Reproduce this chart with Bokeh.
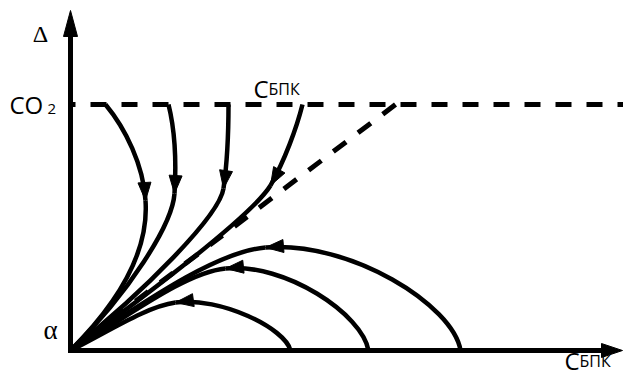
import numpy as np
from bokeh.plotting import figure
from bokeh.models import Range1d
from bokeh.core.properties import value
from bokeh.embed import file_html
from bokeh.resources import INLINE

# --- diagram geometry (data units: origin at the corner of the axes) ---
co2_level = 246           # height of the dashed CO2 line
x_axis_end = 552          # tip of the horizontal axis arrow
y_axis_end = 340          # tip of the vertical axis arrow
diag_end = (325, 246)     # upper end of the dashed diagonal

# Trajectories leaving the CO2 line. Each one is two cubic pieces:
# start, c1, c2, arrow point, c1, c2, origin
fall_1 = [(35, 246), (55, 222), (73, 185), (75, 150), (78, 108), (58, 58), (0, 0)]
fall_2 = [(98, 246), (104, 222), (106, 190), (104, 157), (102, 126), (58, 57), (0, 0)]
fall_3 = [(158, 246), (158, 220), (157, 190), (153, 162), (149, 135), (75, 60), (0, 0)]
fall_4 = [(232, 246), (226, 222), (214, 190), (200, 165), (183, 137), (85, 62), (0, 0)]

# Trajectories rising from the horizontal axis and returning to the origin
rise_1 = [(390, 0), (383, 45), (280, 110), (195, 103), (145, 99), (70, 46), (0, 0)]
rise_2 = [(298, 0), (292, 36), (215, 88), (155, 82), (114, 78), (55, 32), (0, 0)]
rise_3 = [(220, 0), (215, 22), (150, 54), (105, 48), (76, 44), (38, 19), (0, 0)]

curves = [fall_1, fall_2, fall_3, fall_4, rise_1, rise_2, rise_3]

# Text labels
y_label = "Δ"
level_label = ("CO", "2")
origin_label = "α"
x_label = ("С", "БПК")

W, H = 623, 376
p = figure(width=W, height=H, x_range=Range1d(-70, 553), y_range=Range1d(-26, 350),
           output_backend="svg", toolbar_location=None, min_border=0,
           x_axis_type=None, y_axis_type=None)
p.grid.visible = False
p.outline_line_color = None
p.background_fill_color = "white"
p.border_fill_color = "white"

INK = "black"

# dashed CO2 level and diagonal
p.line([0, 553], [co2_level, co2_level], line_color=INK, line_width=5,
       line_dash="16 15", line_dash_offset=11)
p.line([diag_end[0], 0], [diag_end[1], 0], line_color=INK, line_width=5,
       line_dash="16 15")

# trajectories as cubic Bézier pieces
seg = {k: [] for k in ("x0", "y0", "x1", "y1", "cx0", "cy0", "cx1", "cy1")}
for c in curves:
    for a in (0, 3):
        s, c1, c2, e = c[a], c[a + 1], c[a + 2], c[a + 3]
        seg["x0"].append(s[0]); seg["y0"].append(s[1])
        seg["x1"].append(e[0]); seg["y1"].append(e[1])
        seg["cx0"].append(c1[0]); seg["cy0"].append(c1[1])
        seg["cx1"].append(c2[0]); seg["cy1"].append(c2[1])
p.bezier(line_color=INK, line_width=4.5, **seg)


def head(tip, direction, length, half_w):
    d = np.asarray(direction, float)
    d /= np.hypot(*d)
    n = np.array([-d[1], d[0]])
    t = np.asarray(tip, float)
    b = t - length * d
    pts = [t, b + half_w * n, b - half_w * n]
    return [q[0] for q in pts], [q[1] for q in pts]


hx, hy = [], []
for c in curves:
    tip = c[3]
    direction = (c[3][0] - c[2][0], c[3][1] - c[2][1])
    xs, ys = head(tip, direction, 18, 6.5)
    hx.append(xs); hy.append(ys)
p.patches(hx, hy, fill_color=INK, line_color=INK, line_width=1)

# axes with arrow heads
p.line([0, 0], [-2.5, y_axis_end - 20], line_color=INK, line_width=5)
p.line([-2.5, x_axis_end - 15], [0, 0], line_color=INK, line_width=5)
ax, ay = head((0, y_axis_end), (0, 1), 26, 7)
bx, by = head((x_axis_end, 0), (1, 0), 21, 7)
p.patches([ax, bx], [ay, by], fill_color=INK, line_color=INK, line_width=1)

# labels
sans = value("Open Sans")
serif = value("Liberation Serif")
p.text(x=[-30], y=[317], text=[y_label], text_font=serif, text_font_size="24px",
       text_align="center", text_baseline="alphabetic", text_color=INK)
p.text(x=[-20], y=[21], text=[origin_label], text_font=serif, text_font_size="27px",
       text_align="center", text_baseline="alphabetic", text_color=INK)
p.text(x=[-61], y=[246], text=[level_label[0]], text_font=sans, text_font_size="24px",
       text_align="left", text_baseline="alphabetic", text_color=INK)
p.text(x=[-23], y=[242], text=[level_label[1]], text_font=sans, text_font_size="15px",
       text_align="left", text_baseline="alphabetic", text_color=INK)
for lx, ly in ((183, 262), (494, -10)):
    p.text(x=[lx], y=[ly], text=[x_label[0]], text_font=sans, text_font_size="24px",
           text_align="left", text_baseline="alphabetic", text_color=INK)
    p.text(x=[lx + 15], y=[ly], text=[x_label[1]], text_font=sans, text_font_size="16px",
           text_align="left", text_baseline="alphabetic", text_color=INK)

open("out.html", "w").write(file_html(p, INLINE))
